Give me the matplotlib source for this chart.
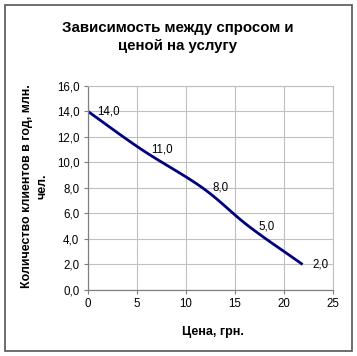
import numpy as np
import matplotlib
matplotlib.use('Agg')
import matplotlib.pyplot as plt
from matplotlib.patches import Rectangle

# данные
price = [0, 5.5, 11.7, 16.4, 21.9]
clients = [14.0, 11.0, 8.0, 5.0, 2.0]
labels = ['14,0', '11,0', '8,0', '5,0', '2,0']
yticks = [0, 2, 4, 6, 8, 10, 12, 14, 16]
xticks = [0, 5, 10, 15, 20, 25]

title = 'Зависимость между спросом и\nценой на услугу'
xlabel = 'Цена, грн.'
ylabel = 'Количество клиентов в год, млн.\nчел.'


def smooth(xs, ys, n=30):
    # сглаживание как в Excel (Catmull-Rom)
    xs = np.asarray(xs, float)
    ys = np.asarray(ys, float)
    px = np.concatenate([[2*xs[0]-xs[1]], xs, [2*xs[-1]-xs[-2]]])
    py = np.concatenate([[2*ys[0]-ys[1]], ys, [2*ys[-1]-ys[-2]]])
    outx, outy = [], []
    t = np.linspace(0, 1, n)
    for i in range(1, len(px)-2):
        for arr, out in ((px, outx), (py, outy)):
            p0, p1, p2, p3 = arr[i-1], arr[i], arr[i+1], arr[i+2]
            out.extend(0.5*((2*p1) + (-p0+p2)*t + (2*p0-5*p1+4*p2-p3)*t**2
                            + (-p0+3*p1-3*p2+p3)*t**3))
    return outx, outy


plt.rcParams['font.family'] = ['Liberation Sans', 'DejaVu Sans']

fig = plt.figure(figsize=(3.57, 3.56), dpi=100)
fig.patch.set_facecolor('white')
fig.patches.append(Rectangle((5/357, 5/356), 347/357, 346/356, transform=fig.transFigure,
                             fill=False, edgecolor='#555555', linewidth=1.2))

ax = fig.add_axes([87.7/357, 1-290/356, (333-87.7)/357, (290-85.7)/356])
sx, sy = smooth(price, clients)
ax.plot(sx, sy, color='#000080', linewidth=2.0, solid_capstyle='butt')
for x, y, s in zip(price, clients, labels):
    ax.annotate(s, (x, y), xytext=(7, 0), textcoords='offset points', fontsize=8.3,
                va='center', ha='left', color='black')

ax.set_xlim(0, 25)
ax.set_ylim(0, 16)
ax.set_xticks(xticks)
ax.set_yticks(yticks)
ax.set_xticklabels([str(v) for v in xticks])
ax.set_yticklabels([('%.1f' % v).replace('.', ',') for v in yticks])
ax.tick_params(labelsize=8.3, length=3, width=0.8, color='#808080', pad=3)
ax.grid(True, color='#c0c0c0', linewidth=0.8)
ax.set_axisbelow(True)
for side in ['top', 'right']:
    ax.spines[side].set_color('#c0c0c0')
    ax.spines[side].set_linewidth(0.8)
for side in ['left', 'bottom']:
    ax.spines[side].set_color('#808080')
    ax.spines[side].set_linewidth(0.9)

fig.text(178/357, 1-37/356, title, ha='center', va='center', fontsize=10.8,
         fontweight='bold', linespacing=1.4)
fig.text(213/357, 1-332/356, xlabel, ha='center', va='center', fontsize=9, fontweight='bold')
fig.text(35/357, 1-186/356, ylabel, ha='center', va='center', rotation=90,
         fontsize=8.9, fontweight='bold', linespacing=1.35, multialignment='center')

fig.savefig('out.png', dpi=100)
